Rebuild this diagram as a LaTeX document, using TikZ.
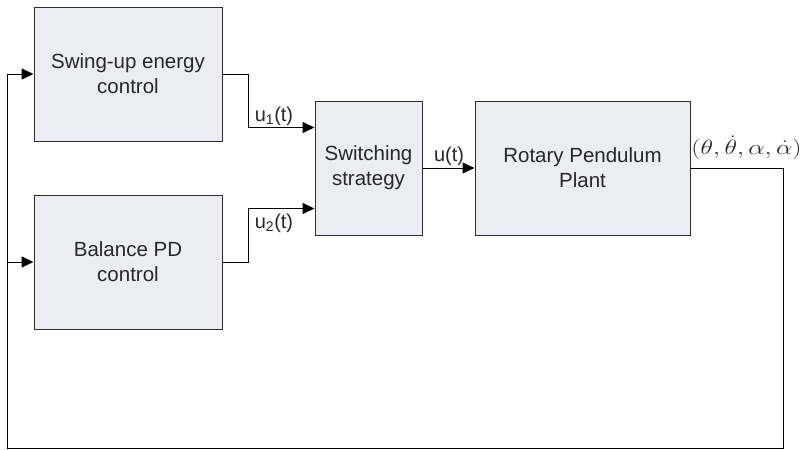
\documentclass[tikz,border=0pt]{standalone}
\usepackage{fontspec}
\setmainfont{Liberation Sans}
\usetikzlibrary{arrows.meta,calc}
\definecolor{boxfill}{RGB}{236,237,243}
\definecolor{boxline}{RGB}{45,45,45}
\definecolor{txt}{RGB}{40,40,40}
\begin{document}
\begin{tikzpicture}[x=1pt,y=-1pt,
  blk/.style={draw=boxline,fill=boxfill,line width=1pt,inner sep=0pt,align=center,text=txt,
    font=\fontsize{20.5}{25}\selectfont,minimum height=134pt},
  conn/.style={line width=1pt,draw=black},
  arr/.style={conn,-{Triangle[length=12pt,width=11pt]}},
  lbl/.style={inner sep=0pt,text=txt,font=\fontsize{20}{24}\selectfont}]
\useasboundingbox (0,0) rectangle (804,450);
\fill[white] (0,0) rectangle (804,450);
\node[blk,minimum width=188pt] (swing) at (128,74) {Swing-up energy\\control};
\node[blk,minimum width=188pt] (bal) at (128,262) {Balance PD\\control};
\node[blk,minimum width=107pt] (sw) at (368.5,168) {Switching\\strategy};
\node[blk,minimum width=215pt] (plant) at (582.5,168) {Rotary Pendulum\\Plant};
\coordinate (in1) at ($(sw.north west)!0.2!(sw.south west)$);
\coordinate (in2) at ($(sw.north west)!0.8!(sw.south west)$);
\coordinate (j1) at (248,74);
\coordinate (j2) at (248,262);
\coordinate (c1) at (783,448);
\coordinate (c2) at (7,448);
\draw[arr] (swing.east) -- (j1) |- (in1);
\draw[arr] (bal.east) -- (j2) |- (in2);
\draw[arr] (sw.east) -- (plant.west);
\draw[conn] (plant.east) -| (c1) -- (c2);
\draw[arr] (c2) |- (swing.west);
\draw[arr] (c2 |- bal.west) -- (bal.west);
\node[lbl] (l1) at (274,116) {u\textsubscript{1}(t)};
\node[lbl] (l2) at (274,223) {u\textsubscript{2}(t)};
\node[lbl] (l3) at (449,156) {u(t)};
\node[inner sep=0pt,text=txt,font=\fontsize{20}{24}\selectfont] (l4) at (746.5,148) {\scalebox{1.25}[1]{$(\theta,\dot\theta,\alpha,\dot\alpha)$}};
\end{tikzpicture}
\end{document}
